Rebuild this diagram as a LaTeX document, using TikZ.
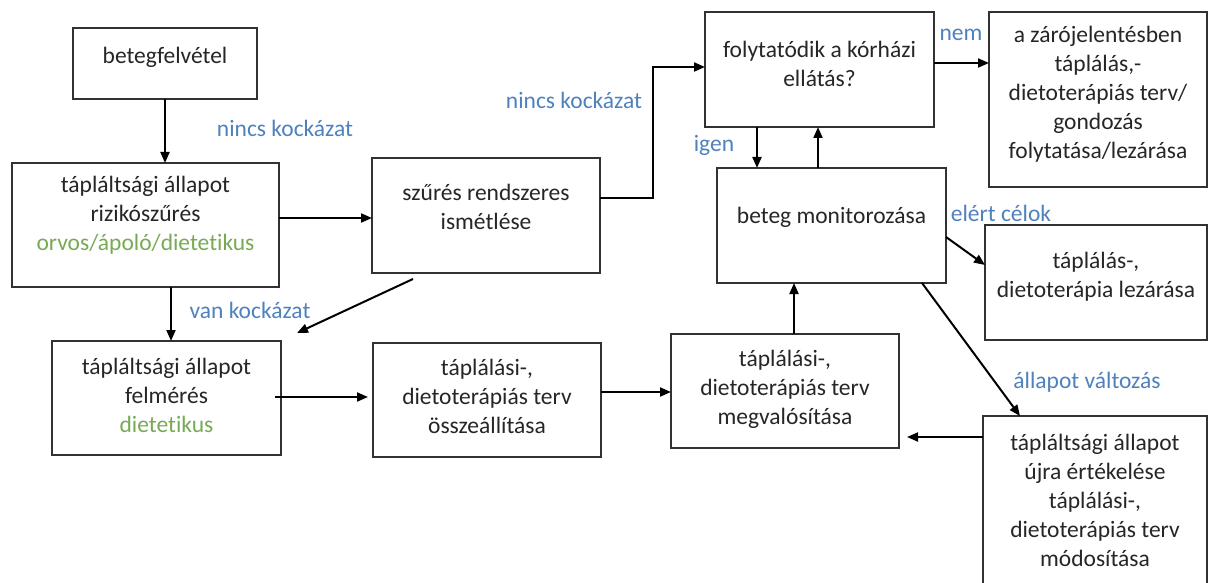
\documentclass[tikz,border=0pt]{standalone}
\usepackage{fontspec}
\setmainfont{Carlito}[Ligatures={NoCommon}]
\usetikzlibrary{arrows.meta,calc}
\definecolor{lblue}{RGB}{79,129,189}
\definecolor{lgreen}{RGB}{119,170,84}
\definecolor{edgec}{RGB}{50,50,50}
\tikzset{
  box/.style={draw=edgec, line width=1.5pt, rectangle, inner sep=0pt, outer sep=0pt, anchor=north west},
  txt/.style={align=center, inner sep=0pt, font=\fontsize{23.5}{29}\selectfont, text=black!85},
  lbl/.style={inner sep=0pt, font=\fontsize{23.5}{29}\selectfont, text=lblue},
  arr/.style={draw=black, line width=2pt, -{Triangle[length=11pt,width=9pt]}},
}
\begin{document}
\begin{tikzpicture}[x=1pt,y=-1pt]
\useasboundingbox (0,0) rectangle (1211,583);
\fill[white] (0,0) rectangle (1211,583);

% boxes
\node[box, minimum width=184pt, minimum height=71pt]  (A) at (73,28) {};
\node[box, minimum width=267pt, minimum height=124pt] (B) at (12,163) {};
\node[box, minimum width=228pt, minimum height=115pt] (C) at (372,158) {};
\node[box, minimum width=229pt, minimum height=115pt] (D) at (705,12) {};
\node[box, minimum width=229pt, minimum height=115pt] (E) at (717,168) {};
\node[box, minimum width=218pt, minimum height=175pt] (F) at (989,12) {};
\node[box, minimum width=222pt, minimum height=115pt] (G) at (985,225) {};
\node[box, minimum width=229pt, minimum height=114pt] (H) at (52,341) {};
\node[box, minimum width=228pt, minimum height=114pt] (I) at (373,343) {};
\node[box, minimum width=228pt, minimum height=114pt] (J) at (671,334) {};
\node[box, minimum width=224pt, minimum height=184pt] (K) at (983,416) {};

% box texts
\node[txt] (tA) at ([yshift=6.5pt]A.center) {betegfelvétel};
\node[txt] (tB) at ([yshift=9.5pt]B.center) {tápláltsági állapot\\rizikószűrés\\\textcolor{lgreen}{orvos/ápoló/dietetikus}};
\node[txt] (tC) at ([yshift=8.5pt]C.center) {szűrés rendszeres\\ismétlése};
\node[txt] (tD) at ([yshift=5.5pt]D.center) {folytatódik a kórházi\\ellátás?};
\node[txt] (tE) at ([yshift=8.5pt]E.center) {beteg monitorozása};
\node[txt] (tF) at ([yshift=5.5pt]F.center) {a zárójelentésben\\táplálás,-\\dietoterápiás terv/\\gondozás\\folytatása/lezárása};
\node[txt] (tG) at ([yshift=5.5pt]G.center) {táplálás-,\\dietoterápia lezárása};
\node[txt] (tH) at ([yshift=3pt]H.center) {tápláltsági állapot\\felmérés\\\textcolor{lgreen}{dietetikus}};
\node[txt] (tI) at ([yshift=4pt]I.center) {táplálási-,\\dietoterápiás terv\\összeállítása};
\node[txt] (tJ) at ([yshift=2pt]J.center) {táplálási-,\\dietoterápiás terv\\megvalósítása};
\node[txt] (tK) at (1095,500) {tápláltsági állapot\\újra értékelése\\táplálási-,\\dietoterápiás terv\\módosítása};

% labels
\node[lbl] (l1) at (285,128) {nincs kockázat};
\node[lbl] (l2) at (250,310) {van kockázat};
\node[lbl] (l3) at (574,100) {nincs kockázat};
\node[lbl] (l4) at (714,145) {igen};
\node[lbl] (l5) at (961,35) {nem};
\node[lbl] (l6) at (1001,213) {elért célok};
\node[lbl] (l7) at (1087,382) {állapot változás};

% connectors
\draw[arr] (A.south) -- (A.south |- B.north);
\draw[arr] ([yshift=7pt]B.east) -- ([yshift=7pt]B.east -| C.west);
\draw[arr] ([xshift=25.5pt]B.south) -- ([xshift=25.5pt]B.south |- H.north);
\draw[arr] ([xshift=-73pt,yshift=-6pt]C.south) -- ([xshift=16pt,yshift=8pt]H.north east);
\draw[arr] ([yshift=17.5pt]C.east) -- ++(53,0) |- ([yshift=2.5pt]D.west);
\draw[arr] ([xshift=-62.5pt]D.south) -- ([xshift=-62.5pt]D.south |- E.north);
\draw[arr] ([xshift=-13.5pt]E.north) -- ([xshift=-13.5pt]E.north |- D.south);
\draw[arr] ([yshift=6.5pt]D.east) -- ([yshift=6.5pt]D.east -| F.west);
\draw[arr] ([yshift=-11.5pt]E.east) -- ([yshift=17.5pt]G.west);
\draw[arr] ([xshift=90.5pt]E.south) -- ([xshift=-75pt]K.north);
\draw[arr] ([yshift=71pt]K.west) -- ([xshift=8pt,yshift=-46pt]J.east);
\draw[arr] ([xshift=-6pt,yshift=1pt]H.east) -- ([xshift=-5pt,yshift=3pt]I.west);
\draw[arr] ([yshift=8pt]I.east) -- ([yshift=8pt]I.east -| J.west);
\draw[arr] ([xshift=9pt]J.north) -- ([xshift=9pt]J.north |- E.south);
\end{tikzpicture}
\end{document}
